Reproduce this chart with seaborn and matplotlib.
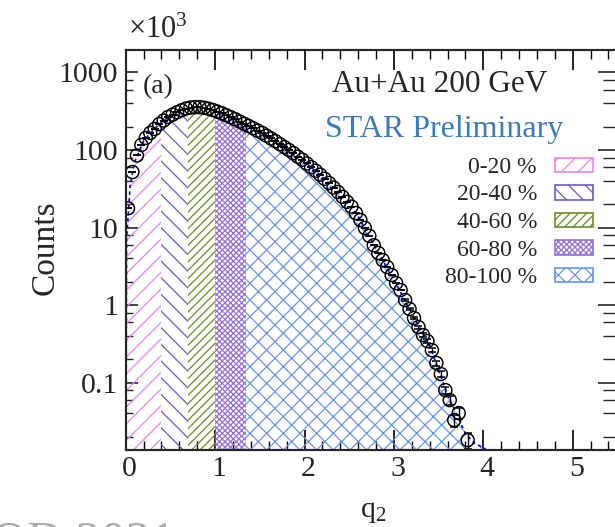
import matplotlib
matplotlib.use("Agg")
import numpy as np
import pandas as pd
import seaborn as sns
import matplotlib.pyplot as plt
from matplotlib.patches import Rectangle
from matplotlib.ticker import LogLocator, MultipleLocator, FuncFormatter, NullFormatter
from matplotlib.transforms import ScaledTranslation

# q2 bin centres and measured counts (in units of 10^3)
q2 = [0.025, 0.075, 0.125, 0.175, 0.225, 0.275, 0.325, 0.375, 0.425, 0.475,
      0.525, 0.575, 0.625, 0.675, 0.725, 0.775, 0.825, 0.875, 0.925, 0.975,
      1.025, 1.075, 1.125, 1.175, 1.225, 1.275, 1.325, 1.375, 1.425, 1.475,
      1.525, 1.575, 1.625, 1.675, 1.725, 1.775, 1.825, 1.875, 1.925, 1.975,
      2.025, 2.075, 2.125, 2.175, 2.225, 2.275, 2.325, 2.375, 2.425, 2.475,
      2.525, 2.575, 2.625, 2.675, 2.725, 2.775, 2.825, 2.875, 2.925, 2.975,
      3.025, 3.075, 3.125, 3.175, 3.225, 3.275, 3.325, 3.375, 3.425, 3.475,
      3.525, 3.575, 3.625, 3.675, 3.725, 3.825]
counts = [17.7, 52, 85, 116, 143, 166, 187, 216, 240, 267,
          286, 307, 326, 343, 353, 357, 357, 351, 341, 328,
          313, 298, 281, 265, 249, 233, 218, 204, 191, 178,
          166, 153, 141, 130, 119, 109, 100, 91, 82, 75,
          67, 60, 54, 48, 42.5, 37.5, 32.8, 28.7, 24.9, 21.5,
          18.6, 15.4, 12.5, 9.9, 7.8, 5.9, 4.7, 3.8, 3.1, 2.44,
          1.92, 1.56, 1.16, 0.89, 0.68, 0.52, 0.41, 0.343, 0.262, 0.179,
          0.129, 0.080, 0.0594, 0.0328, 0.0404, 0.0181]
count_err = [0] * 62 + [0.034, 0.030, 0.026, 0.023, 0.020, 0.0185, 0.016, 0.0134,
                        0.0114, 0.0089, 0.0077, 0.0057, 0.0064, 0.0043]

# fitted distribution
fit_q2 = [0.0, 0.01, 0.05, 0.1, 0.2, 0.3, 0.4, 0.5, 0.6, 0.7, 0.8, 0.9, 1.0,
          1.2, 1.4, 1.6, 1.8, 2.0, 2.2, 2.4, 2.6, 2.8, 3.0, 3.2, 3.4, 3.6,
          3.8, 3.9, 4.0, 4.1]
fit_counts = [0.001, 7, 35, 70, 131, 177, 228, 277, 317, 348, 357, 346, 320,
              257, 197, 147, 104, 71, 45, 26.8, 13.9, 5.3, 2.15, 0.78, 0.30, 0.07,
              0.022, 0.0165, 0.0145, 0.012]

# event-class boundaries in q2
class_labels = ["0-20 %", "20-40 %", "40-60 %", "60-80 %", "80-100 %"]
class_edges = [0.0, 0.39, 0.70, 1.00, 1.35, 6.0]
class_colors = ["#ee82ee", "#6a5acd", "#6b8e23", "#9370db", "#6495ed"]
class_hatches = ["//", "\\\\", "////", "xxxxxx", "xx"]

sns.set_style("ticks")
plt.rcParams.update({
    "font.family": ["Liberation Serif", "DejaVu Serif"],
    "mathtext.fontset": "custom",
    "mathtext.rm": "Liberation Serif",
    "hatch.linewidth": 0.9,
    "axes.linewidth": 1.5,
})

W, H = 615, 527
fig = plt.figure(figsize=(W / 100, H / 100), dpi=100)

def fx(px):
    return px / W

def fy(py):
    return 1 - py / H

left_px, right_px, top_px, bottom_px = 125.7, 620, 50, 450
ax = fig.add_axes([fx(left_px), fy(bottom_px), fx(right_px - left_px), (bottom_px - top_px) / H])
ax.set_facecolor("white")

ymin, ymax = 0.0135, 1950
xmax = (right_px - left_px) / 89.4
ax.set_yscale("log")
ax.set_xlim(0, xmax)
ax.set_ylim(ymin, ymax)

# hatched centrality classes under the fit
for lo, hi, col, hat in zip(class_edges[:-1], class_edges[1:], class_colors, class_hatches):
    coll = ax.fill_between(fit_q2, 1e-4, fit_counts, facecolor="none",
                           edgecolor=col, hatch=hat, linewidth=0)
    hi = min(hi, xmax)
    clip = Rectangle((lo, ymin), hi - lo, ymax - ymin, transform=ax.transData)
    coll.set_clip_path(clip)

fit_df = pd.DataFrame({"q2": fit_q2, "counts": fit_counts})
sns.lineplot(data=fit_df, x="q2", y="counts", ax=ax, color="blue",
             linestyle=(0, (2, 2)), linewidth=1.2, sort=False, zorder=3)

data_df = pd.DataFrame({"q2": q2, "counts": counts, "err": count_err})
ax.errorbar(data_df["q2"], data_df["counts"], yerr=data_df["err"], fmt="none",
            ecolor="black", elinewidth=1.0, capsize=2.8, capthick=1.1, zorder=4)
sns.scatterplot(data=data_df, x="q2", y="counts", ax=ax, marker="o", s=88,
                facecolor="none", edgecolor="black", linewidth=1.05, zorder=5)

# axes styling
ax.set_xlabel("")
ax.set_ylabel("")
ax.xaxis.set_major_locator(MultipleLocator(1))
ax.xaxis.set_minor_locator(MultipleLocator(0.2))
ax.yaxis.set_major_locator(LogLocator(base=10, numticks=12))
ax.yaxis.set_minor_locator(LogLocator(base=10, subs=(2, 4, 6, 8), numticks=12))
ax.yaxis.set_major_formatter(FuncFormatter(lambda v, _: f"{v:g}"))
ax.yaxis.set_minor_formatter(NullFormatter())
ax.tick_params(axis="x", which="both", direction="in", top=True, bottom=True,
               labelsize=21.5, pad=4.5, width=1.2, color="black")
ax.tick_params(axis="x", which="major", length=14.4)
ax.tick_params(axis="x", which="minor", length=6.5, width=1.0)
ax.tick_params(axis="y", which="both", direction="in", left=True, right=False,
               labelsize=21.5, pad=5.5, width=1.2)
ax.tick_params(axis="y", which="major", length=8.6)
ax.tick_params(axis="y", which="minor", length=5.0, width=1.0)
for lab in ax.get_xticklabels():
    lab.set_transform(lab.get_transform() + ScaledTranslation(4 / 100, 0, fig.dpi_scale_trans))
for sp in ax.spines.values():
    sp.set_linewidth(1.5)
    sp.set_color("black")

ax2 = ax.twinx()
ax2.set_yscale("log")
ax2.set_ylim(ymin, ymax)
ax2.yaxis.set_major_locator(LogLocator(base=10, numticks=12))
ax2.yaxis.set_minor_locator(LogLocator(base=10, subs=(2, 4, 6, 8), numticks=12))
ax2.tick_params(axis="y", which="both", direction="in", left=False, right=True,
                labelright=False, width=1.2)
ax2.tick_params(axis="y", which="major", length=16)
ax2.tick_params(axis="y", which="minor", length=12, width=1.0)
for sp in ax2.spines.values():
    sp.set_linewidth(1.5)

# labels and annotations
fig.text(fx(128), fy(38), r"$\mathregular{\times10^{3}}$", fontsize=22, va="baseline", ha="left")
fig.text(fx(373), fy(517), r"$\mathregular{q_{2}}$", fontsize=21.5, va="baseline", ha="center")
fig.text(fx(45), fy(248), "Counts", fontsize=24, rotation=90, va="center", ha="center")
fig.text(fx(143), fy(93), "(a)", fontsize=20, va="baseline", ha="left")
fig.text(fx(332), fy(91.7), "Au+Au 200 GeV", fontsize=22.5, va="baseline", ha="left")
fig.text(fx(325), fy(136.7), "STAR Preliminary", fontsize=23, va="baseline", ha="left",
         color="#3b7bbf")
fig.text(fx(176), fy(555.5), "CPOD 2021", fontsize=36, va="baseline", ha="right", color="#aaaaaa")

# legend rows
row_centres = [165, 192.5, 220, 247.5, 275]
for lab, col, hat, yc in zip(class_labels, class_colors, class_hatches, row_centres):
    fig.text(fx(537), fy(yc + 8), lab, fontsize=17, ha="right", va="baseline")
    fig.add_artist(Rectangle((fx(555), fy(yc + 7)), 38 / W, 14 / H,
                             transform=fig.transFigure, facecolor="none",
                             edgecolor=col, hatch=hat, linewidth=1.2))

fig.savefig("out.png", dpi=100)
